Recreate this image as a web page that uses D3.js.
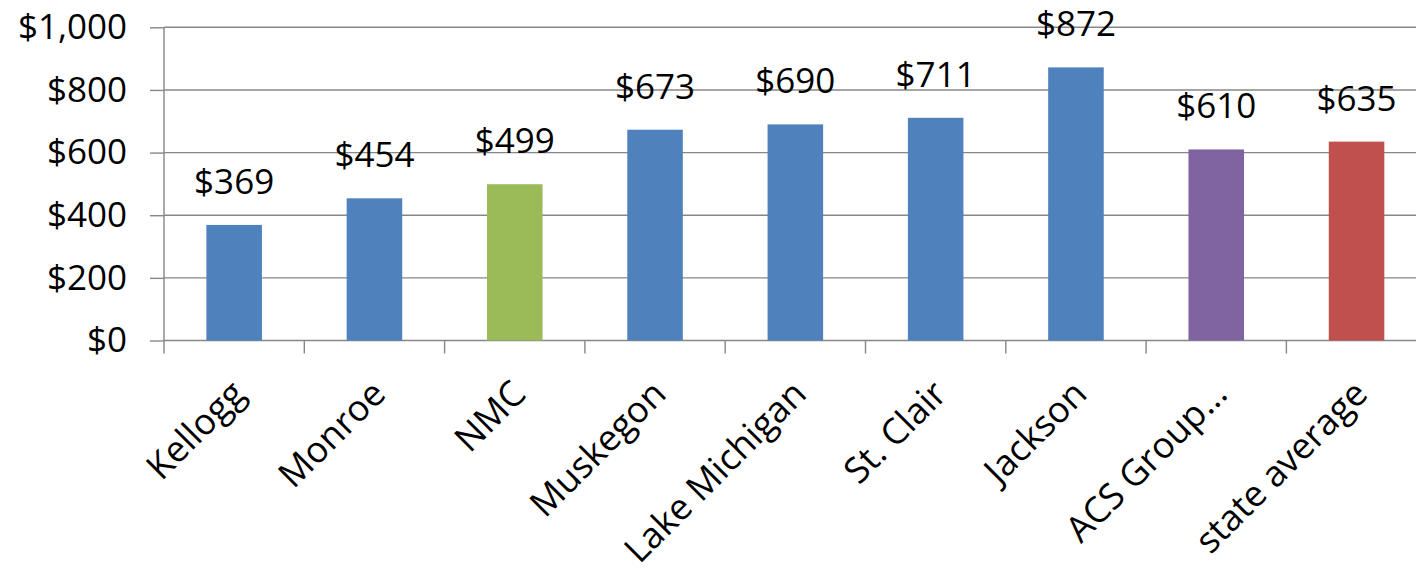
<!DOCTYPE html>
<html>
<head>
<meta charset="utf-8">
<script src="https://cdn.jsdelivr.net/npm/d3@7"></script>
<style>
  html, body { margin: 0; padding: 0; background: #fff; overflow: hidden; }
  svg text { font-family: "Open Sans", sans-serif; fill: #000; }
</style>
</head>
<body>
<div id="chart"></div>
<script>
// chart data
const colleges = ['Kellogg', 'Monroe', 'NMC', 'Muskegon', 'Lake Michigan', 'St. Clair', 'Jackson', 'ACS Group...', 'state average'];
const costs = [369, 454, 499, 673, 690, 711, 872, 610, 635];
const barColors = ['#4F81BD', '#4F81BD', '#9BBB59', '#4F81BD', '#4F81BD', '#4F81BD', '#4F81BD', '#8064A2', '#C0504D'];
const yTicks = [0, 200, 400, 600, 800, 1000];

const width = 1416;
const height = 573;
const left = 164;    // y axis position
const step = 140.3;  // category width (chart runs past the right edge)

const svg = d3.select('#chart')
  .append('svg')
  .attr('width', width)
  .attr('height', height);

const x = d3.scaleBand()
  .domain(colleges)
  .range([left, left + colleges.length * step])
  .paddingInner(0.604)
  .paddingOuter(0.302);

const y = d3.scaleLinear()
  .domain([0, 1000])
  .range([340.5, 27.3]);

const fmt = d3.format('$,');
const gridColor = '#878787';

// horizontal gridlines + y labels
const yAxis = svg.append('g')
  .attr('transform', `translate(${left},0)`)
  .call(d3.axisLeft(y).tickValues(yTicks).tickFormat(fmt).tickSize(14).tickPadding(23));
yAxis.select('.domain').remove();
yAxis.selectAll('.tick line').attr('stroke', gridColor).attr('stroke-width', 1.4);
yAxis.selectAll('.tick text')
  .style('font-size', '35px')
  .attr('fill', '#000');

svg.append('g')
  .selectAll('line')
  .data(yTicks)
  .enter().append('line')
  .attr('x1', left)
  .attr('x2', width)
  .attr('y1', d => y(d))
  .attr('y2', d => y(d))
  .attr('stroke', gridColor)
  .attr('stroke-width', 1.4);

// y axis line
svg.append('line')
  .attr('x1', left).attr('x2', left)
  .attr('y1', y(1000)).attr('y2', y(0) + 13)
  .attr('stroke', gridColor)
  .attr('stroke-width', 1.4);

// category boundary ticks
svg.append('g')
  .selectAll('line')
  .data(d3.range(1, colleges.length + 1))
  .enter().append('line')
  .attr('x1', i => left + i * x.step())
  .attr('x2', i => left + i * x.step())
  .attr('y1', y(0))
  .attr('y2', y(0) + 13)
  .attr('stroke', gridColor)
  .attr('stroke-width', 1.4);

// bars
svg.append('g')
  .selectAll('rect')
  .data(colleges)
  .enter().append('rect')
  .attr('x', d => x(d))
  .attr('y', (d, i) => y(costs[i]))
  .attr('width', x.bandwidth())
  .attr('height', (d, i) => y(0) - y(costs[i]))
  .attr('fill', (d, i) => barColors[i]);

// value labels
svg.append('g')
  .selectAll('text')
  .data(colleges)
  .enter().append('text')
  .attr('x', d => x(d) + x.bandwidth() / 2)
  .attr('y', (d, i) => y(costs[i]) - 31)
  .attr('text-anchor', 'middle')
  .style('font-size', '35px')
  .text((d, i) => fmt(costs[i]));

// rotated category labels
svg.append('g')
  .selectAll('text')
  .data(colleges)
  .enter().append('text')
  .attr('transform', d => `translate(${x(d) + x.bandwidth() / 2 + 13},396) rotate(-45)`)
  .attr('text-anchor', 'end')
  .style('font-size', '36px')
  .text(d => d);
</script>
</body>
</html>
